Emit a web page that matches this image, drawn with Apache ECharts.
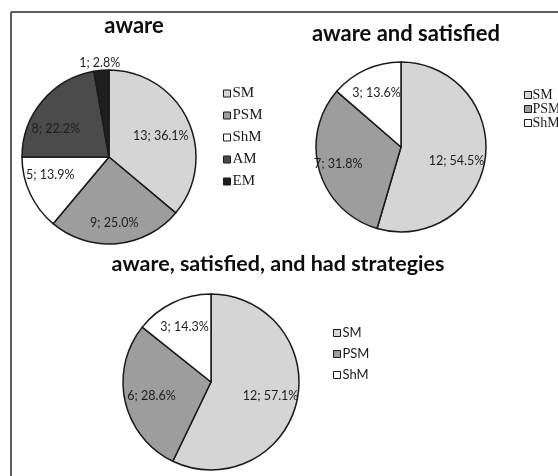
<!DOCTYPE html>
<html>
<head>
<meta charset="utf-8">
<script src="https://cdn.jsdelivr.net/npm/echarts@6/dist/echarts.min.js"></script>
<style>
  html, body { margin: 0; padding: 0; background: #ffffff; }
  #chart { width: 558px; height: 476px; }
</style>
</head>
<body>
<div id="chart"></div>
<script>
// Category names and counts for each respondent group
const categoriesAware = ['SM', 'PSM', 'ShM', 'AM', 'EM'];
const countsAware = [13, 9, 5, 8, 1];

const categoriesSatisfied = ['SM', 'PSM', 'ShM'];
const countsSatisfied = [12, 7, 3];

const categoriesStrategies = ['SM', 'PSM', 'ShM'];
const countsStrategies = [12, 6, 3];

const chartTitles = ['aware', 'aware and satisfied', 'aware, satisfied, and had strategies'];

// Grey shades per category
const sliceColors = { SM: '#d5d5d5', PSM: '#9d9d9d', ShM: '#ffffff', AM: '#4b4b4b', EM: '#1f1f1f' };

const labelFont = 'Lato, "Open Sans", sans-serif';
const serifFont = '"Liberation Serif", "DejaVu Serif", serif';

function makeData(cats, vals) {
  return cats.map((c, i) => ({ name: c, value: vals[i], itemStyle: { color: sliceColors[c] } }));
}

function labelText(vals) {
  const total = vals.reduce((a, b) => a + b, 0);
  return p => p.value + '; ' + (p.value / total * 100).toFixed(1) + '%';
}

// Visible pie slices
function pieSeries(name, cats, vals, center, radius) {
  return {
    type: 'pie',
    name: name,
    center: center,
    radius: radius,
    startAngle: 90,
    clockwise: true,
    animation: false,
    silent: true,
    label: { show: false },
    labelLine: { show: false },
    itemStyle: { borderColor: '#1a1a1a', borderWidth: 1.5 },
    data: makeData(cats, vals)
  };
}

// Transparent ring carrying the data labels a bit further out than mid-radius
function labelSeries(name, cats, vals, center, radius, itemLabels) {
  const data = cats.map((c, i) => {
    const d = { name: c, value: vals[i] };
    if (itemLabels && itemLabels[c]) d.label = itemLabels[c];
    return d;
  });
  return {
    type: 'pie',
    name: name + '-labels',
    center: center,
    radius: [radius * 0.32, radius],
    startAngle: 90,
    clockwise: true,
    animation: false,
    silent: true,
    legendHoverLink: false,
    itemStyle: { color: 'rgba(0,0,0,0)', borderWidth: 0 },
    label: {
      show: true,
      position: 'inside',
      formatter: labelText(vals),
      fontFamily: labelFont,
      fontSize: 12.5,
      color: '#1e1e1e'
    },
    labelLine: { show: false },
    data: data
  };
}

function titleAt(text, x, y, size) {
  return {
    text: text,
    left: x,
    top: y,
    textAlign: 'center',
    padding: 0,
    textStyle: { fontFamily: labelFont, fontWeight: 'bold', fontSize: size, color: '#0d0d0d' }
  };
}

function legendAt(cats, x, y, opts) {
  return Object.assign({
    orient: 'vertical',
    left: x,
    top: y,
    padding: 0,
    icon: 'rect',
    itemWidth: 7,
    itemHeight: 7,
    selectedMode: false,
    data: cats,
    itemStyle: { borderColor: '#1a1a1a', borderWidth: 1 }
  }, opts);
}

const chart = echarts.init(document.getElementById('chart'), null, { renderer: 'canvas' });

chart.setOption({
  backgroundColor: '#ffffff',
  title: [
    titleAt(chartTitles[0], 134, 15, 22),
    titleAt(chartTitles[1], 406, 23, 22),
    titleAt(chartTitles[2], 278, 253, 21.5)
  ],
  legend: [
    legendAt(categoriesAware, 223, 86, {
      itemGap: 7,
      textStyle: { fontFamily: serifFont, fontSize: 15, color: '#1a1a1a', lineHeight: 15, padding: [0, 0, 0, -3] }
    }),
    legendAt(categoriesSatisfied, 524, 88, {
      itemGap: 0,
      textStyle: { fontFamily: serifFont, fontSize: 14, color: '#1a1a1a', lineHeight: 11.5, padding: [0, 0, 0, -4] }
    }),
    legendAt(categoriesStrategies, 333, 326, {
      itemGap: 7,
      textStyle: { fontFamily: labelFont, fontSize: 13, color: '#1a1a1a', lineHeight: 14, padding: [0, 0, 0, -3] }
    })
  ],
  graphic: [
    { type: 'line', shape: { x1: 11, y1: 12, x2: 558, y2: 12 }, style: { stroke: '#2a2a2a', lineWidth: 1.5 } },
    { type: 'line', shape: { x1: 11, y1: 12, x2: 11, y2: 476 }, style: { stroke: '#2a2a2a', lineWidth: 1.5 } }
  ],
  series: [
    pieSeries(chartTitles[0], categoriesAware, countsAware, [109, 157], 87),
    pieSeries(chartTitles[1], categoriesSatisfied, countsSatisfied, [401, 147], 85),
    pieSeries(chartTitles[2], categoriesStrategies, countsStrategies, [211, 382], 88),
    labelSeries(chartTitles[0], categoriesAware, countsAware, [109, 157], 87, {
      SM: { offset: [-3, 5] },
      PSM: { offset: [0, 6] },
      ShM: { offset: [-4, -8] },
      AM: { offset: [-7, 11] },
      EM: { offset: [-4, -34] }
    }),
    labelSeries(chartTitles[1], categoriesSatisfied, countsSatisfied, [401, 147], 85, {
      SM: { offset: [-3, 6] },
      PSM: { offset: [-6, 0] }
    }),
    labelSeries(chartTitles[2], categoriesStrategies, countsStrategies, [211, 382], 88)
  ]
});
</script>
</body>
</html>
